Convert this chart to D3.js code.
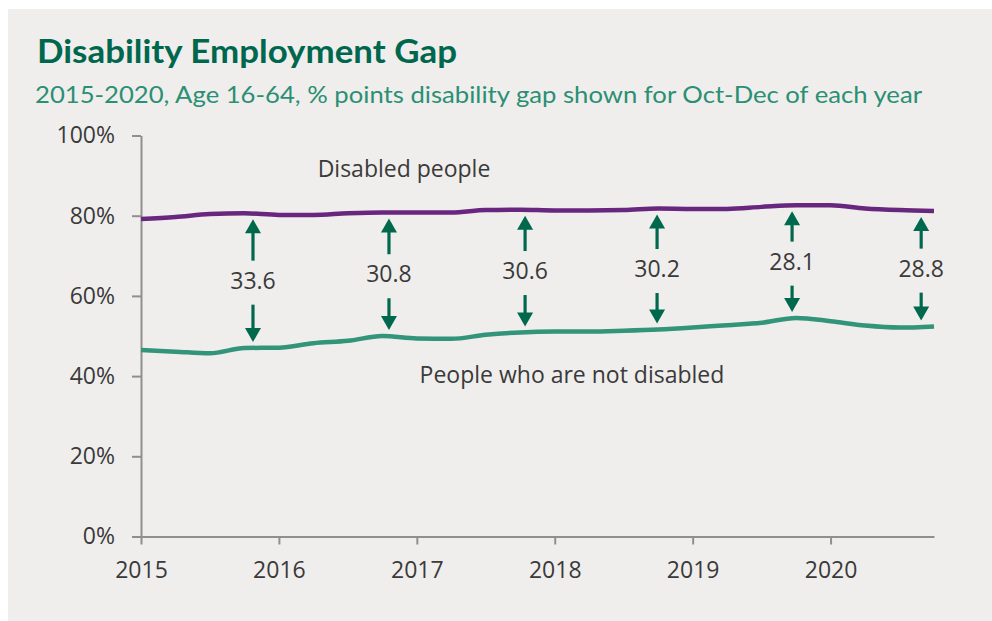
<!DOCTYPE html>
<html>
<head>
<meta charset="utf-8">
<script src="https://cdn.jsdelivr.net/npm/d3@7/dist/d3.min.js"></script>
<style>
  html, body { margin: 0; padding: 0; background: #ffffff; }
  svg { display: block; }
</style>
</head>
<body>
<div id="chart"></div>
<script>
// Quarterly employment rates (%), Age 16-64, Jan-Mar 2015 to Oct-Dec 2020
const quarters = [
  "Jan-Mar 2015", "Apr-Jun 2015", "Jul-Sep 2015", "Oct-Dec 2015",
  "Jan-Mar 2016", "Apr-Jun 2016", "Jul-Sep 2016", "Oct-Dec 2016",
  "Jan-Mar 2017", "Apr-Jun 2017", "Jul-Sep 2017", "Oct-Dec 2017",
  "Jan-Mar 2018", "Apr-Jun 2018", "Jul-Sep 2018", "Oct-Dec 2018",
  "Jan-Mar 2019", "Apr-Jun 2019", "Jul-Sep 2019", "Oct-Dec 2019",
  "Jan-Mar 2020", "Apr-Jun 2020", "Jul-Sep 2020", "Oct-Dec 2020"
];
const disabledPeople = [
  79.2, 79.7, 80.4, 80.6, 80.2, 80.2, 80.6, 80.8,
  80.8, 80.8, 81.4, 81.5, 81.3, 81.3, 81.4, 81.8,
  81.7, 81.7, 82.2, 82.6, 82.6, 81.8, 81.4, 81.2
];
const notDisabled = [
  46.5, 46.1, 45.7, 47.0, 47.1, 48.2, 48.8, 50.0,
  49.4, 49.3, 50.3, 50.9, 51.1, 51.1, 51.3, 51.6,
  52.1, 52.7, 53.3, 54.5, 53.7, 52.6, 52.1, 52.4
];
// Gap annotations (Oct-Dec of each year) and where each arrow is placed
const gapQuarters = ["Oct-Dec 2015", "Oct-Dec 2016", "Oct-Dec 2017", "Oct-Dec 2018", "Oct-Dec 2019", "Oct-Dec 2020"];
const gapValues = [33.6, 30.8, 30.6, 30.2, 28.1, 28.8];
const gapArrowYears = [2015.812, 2016.798, 2017.785, 2018.742, 2019.721, 2020.657];
const yearTicks = [2015, 2016, 2017, 2018, 2019, 2020];
const percentTicks = [0, 20, 40, 60, 80, 100];

const W = 992, H = 621;
const quarterStart = { "Jan-Mar": 0, "Apr-Jun": 0.25, "Jul-Sep": 0.5, "Oct-Dec": 0.75 };
const toYear = q => +q.slice(8) + quarterStart[q.slice(0, 7)];

const svg = d3.select("#chart").append("svg")
  .attr("width", W).attr("height", H);

// panel background
svg.append("rect").attr("x", 8).attr("y", 9)
  .attr("width", W - 8).attr("height", H - 9)
  .attr("fill", "#efeeec");

// headings
svg.append("text").attr("x", 37).attr("y", 63)
  .attr("font-family", "Lato, sans-serif").attr("font-weight", 700)
  .attr("font-size", 32).attr("fill", "#00674f")
  .attr("textLength", 420).attr("lengthAdjust", "spacingAndGlyphs")
  .text("Disability Employment Gap");
svg.append("text").attr("x", 35).attr("y", 103)
  .attr("font-family", "Lato, sans-serif")
  .attr("font-size", 24).attr("fill", "#2b8f74")
  .attr("textLength", 887).attr("lengthAdjust", "spacingAndGlyphs")
  .text("2015-2020, Age 16-64, % points disability gap shown for Oct-Dec of each year");

const x = d3.scaleLinear().domain([2015, 2020.75]).range([141, 934]);
const y = d3.scaleLinear().domain([0, 100]).range([536.5, 135.5]);

const axisColor = "#8f8f8f";
const textColor = "#3a3a3a";
const font = "'Open Sans', sans-serif";
const fs = 23;

// y axis
const gy = svg.append("g").attr("transform", `translate(${x(2015)},0)`)
  .call(d3.axisLeft(y).tickValues(percentTicks).tickFormat(d => d + "%")
    .tickSize(9).tickPadding(17).tickSizeOuter(0));
// x axis
const gx = svg.append("g").attr("transform", `translate(0,${y(0)})`)
  .call(d3.axisBottom(x).tickValues(yearTicks).tickFormat(d3.format("d"))
    .tickSize(8).tickPadding(17).tickSizeOuter(0));

[gx, gy].forEach(g => {
  g.selectAll(".domain, .tick line").attr("stroke", axisColor).attr("stroke-width", 2);
  g.selectAll(".tick text").attr("font-family", font).attr("font-size", fs)
    .attr("fill", textColor);
});

// series lines
const line = d3.line()
  .x((d, i) => x(toYear(quarters[i])))
  .y(d => y(d))
  .curve(d3.curveMonotoneX);

svg.append("path").datum(notDisabled).attr("d", line)
  .attr("fill", "none").attr("stroke", "#329478").attr("stroke-width", 4.5)
  .attr("stroke-linejoin", "round").attr("stroke-linecap", "butt");
svg.append("path").datum(disabledPeople).attr("d", line)
  .attr("fill", "none").attr("stroke", "#68267f").attr("stroke-width", 4.5)
  .attr("stroke-linejoin", "round").attr("stroke-linecap", "butt");

// series labels
svg.append("text").attr("x", x(2016.907)).attr("y", y(91.1))
  .attr("font-family", font).attr("font-size", fs).attr("fill", textColor)
  .attr("text-anchor", "middle").attr("dominant-baseline", "middle")
  .text("Disabled people");
svg.append("text").attr("x", x(2018.125)).attr("y", y(39.8))
  .attr("font-family", font).attr("font-size", fs).attr("fill", textColor)
  .attr("text-anchor", "middle").attr("dominant-baseline", "middle")
  .text("People who are not disabled");

// gap arrows with labels
const arrowColor = "#00694d";
const headW = 8, headH = 14, pad = 6, labelHalf = 22;
gapQuarters.forEach((q, k) => {
  const i = quarters.indexOf(q);
  const ax = x(gapArrowYears[k]);
  const top = y(disabledPeople[i]) + pad;
  const bottom = y(notDisabled[i]) - pad;
  const mid = (y(disabledPeople[i]) + y(notDisabled[i])) / 2 + 2;
  const g = svg.append("g");
  // upward arrow
  g.append("line").attr("x1", ax).attr("x2", ax)
    .attr("y1", top + headH - 1).attr("y2", mid - labelHalf)
    .attr("stroke", arrowColor).attr("stroke-width", 3.2);
  g.append("path")
    .attr("d", `M${ax},${top} L${ax + headW},${top + headH} L${ax - headW},${top + headH} Z`)
    .attr("fill", arrowColor);
  // downward arrow
  g.append("line").attr("x1", ax).attr("x2", ax)
    .attr("y1", mid + labelHalf).attr("y2", bottom - headH + 1)
    .attr("stroke", arrowColor).attr("stroke-width", 3.2);
  g.append("path")
    .attr("d", `M${ax},${bottom} L${ax + headW},${bottom - headH} L${ax - headW},${bottom - headH} Z`)
    .attr("fill", arrowColor);
  g.append("text").attr("x", ax).attr("y", mid)
    .attr("font-family", font).attr("font-size", fs).attr("fill", textColor)
    .attr("text-anchor", "middle").attr("dominant-baseline", "middle")
    .text(gapValues[k].toFixed(1));
});
</script>
</body>
</html>
